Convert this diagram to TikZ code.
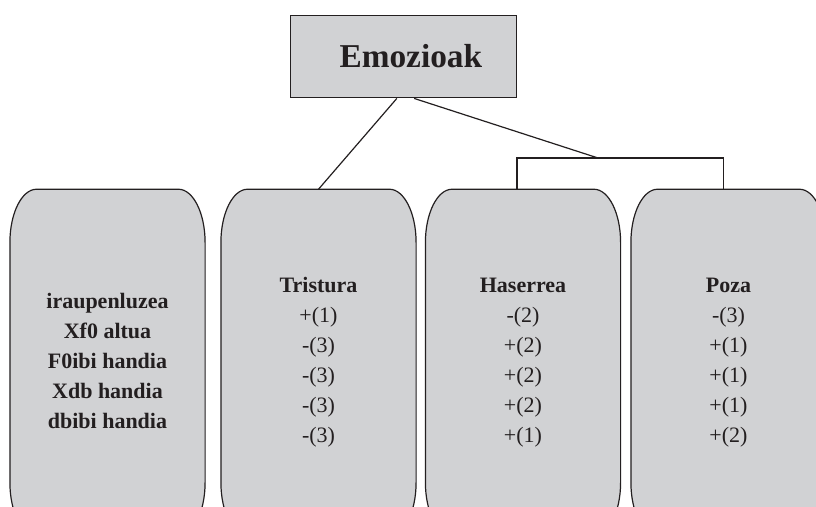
\documentclass[tikz,border=0pt]{standalone}
\usepackage{fontspec}
\setmainfont{Liberation Serif}
\usepackage{tikz}
\usetikzlibrary{positioning,backgrounds}

\definecolor{boxgray}{RGB}{209,210,212}
\definecolor{inkblack}{RGB}{35,31,32}

\newcommand{\rx}{20pt}
\newcommand{\ry}{40pt}

\begin{document}
\begin{tikzpicture}[x=0.75pt, y=-0.75pt,
    emobox/.style={minimum width=146pt, minimum height=259.5pt, align=center, inner sep=0pt,
      font=\fontsize{16.5}{22.5}\selectfont, text=inkblack},
    boxline/.style={draw=inkblack, line width=0.9pt, fill=boxgray},
    link/.style={draw=inkblack, line width=0.9pt}]
  \useasboundingbox (0,0) rectangle (816,506);

  % Top box
  \node[draw=inkblack, line width=0.9pt, fill=boxgray, minimum width=170pt, minimum height=62pt,
    font=\fontsize{25}{30}\bfseries\selectfont, text=inkblack] (emo) at (403.5,56.5) {\hspace*{11pt}Emozioak};

  % Feature box
  \node[emobox, font=\fontsize{16.5}{22.5}\bfseries\selectfont] (ezaug) at (107.5,362.5)
    {\mbox{}\\[-13.5pt]iraupenluzea\\Xf0 altua\\F0ibi handia\\Xdb handia\\dbibi handia};

  % Emotion boxes
  \node[emobox] (tris) at (318.5,362.5) {\textbf{Tristura}\\+(1)\\-(3)\\-(3)\\-(3)\\-(3)};
  \node[emobox] (hase) at (523,362.5) {\textbf{Haserrea}\\-(2)\\+(2)\\+(2)\\+(2)\\+(1)};
  \node[emobox] (poza) at (728.5,362.5) {\textbf{Poza}\\-(3)\\+(1)\\+(1)\\+(1)\\+(2)};

  % Rounded outlines behind the text
  \begin{scope}[on background layer]
    \foreach \n in {ezaug,tris,hase,poza}
      \draw[boxline] ([xshift=\rx]\n.north west) -- ([xshift=-\rx]\n.north east)
        arc[start angle=90, end angle=0, x radius=\rx, y radius=\ry]
        -- ([yshift=\ry]\n.south east)
        arc[start angle=0, end angle=-90, x radius=\rx, y radius=\ry]
        -- ([xshift=\rx]\n.south west)
        arc[start angle=270, end angle=180, x radius=\rx, y radius=\ry]
        -- ([yshift=-\ry]\n.north west)
        arc[start angle=180, end angle=90, x radius=\rx, y radius=\ry] -- cycle;
  \end{scope}

  % Connectors
  \coordinate (join) at (598,158);
  \draw[link] ([xshift=-5pt]emo.south) -- (tris.north);
  \draw[link] ([xshift=8pt]emo.south) -- (join);
  \draw[link] ([xshift=-4.5pt]hase.north) |- (join) -| ([xshift=-3.5pt]poza.north);
\end{tikzpicture}
\end{document}
